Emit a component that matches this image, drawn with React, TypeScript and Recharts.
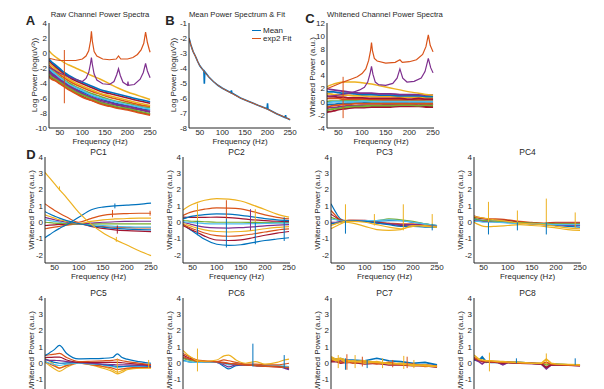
import React from 'react';
import { LineChart, Line, XAxis, YAxis } from 'recharts';

// MATLAB default colour order
const M = {
  blue: '#0072BD',
  orange: '#D95319',
  yellow: '#EDB120',
  purple: '#7E2F8E',
  green: '#77AC30',
  cyan: '#4DBEEE',
  red: '#A2142F',
};
const FONT = '"Liberation Sans", Arial, Helvetica, sans-serif';
const INK = '#262626';

// ---------- A: raw channel spectra (log power) ----------
const topFreq = [26, 32, 40, 50, 60, 70, 85, 100, 120, 140, 160, 180, 200, 220, 235, 250];
const rawChannels = [
  [-3.0, -3.3, -3.6, -4.0, -4.4, -4.8, -5.3, -5.8, -6.3, -6.7, -7.0, -7.3, -7.5, -7.8, -8.0, -8.2],
  [-2.6, -3.0, -3.3, -3.8, -4.2, -4.6, -5.1, -5.5, -6.0, -6.5, -6.8, -7.0, -7.3, -7.5, -7.7, -7.9],
  [-2.2, -2.6, -3.0, -3.5, -3.9, -4.3, -4.8, -5.2, -5.7, -6.1, -6.5, -6.8, -7.0, -7.3, -7.5, -7.6],
  [-1.9, -2.3, -2.7, -3.2, -3.6, -4.0, -4.5, -4.9, -5.4, -5.8, -6.2, -6.5, -6.7, -7.0, -7.2, -7.3],
  [-1.6, -2.0, -2.4, -2.9, -3.3, -3.7, -4.2, -4.6, -5.1, -5.5, -5.9, -6.2, -6.5, -6.8, -7.0, -7.1],
  [-2.0, -2.4, -2.8, -3.3, -3.7, -4.2, -4.6, -5.0, -5.6, -6.0, -6.3, -6.6, -6.9, -7.1, -7.3, -7.5],
  [-1.3, -1.7, -2.1, -2.6, -3.1, -3.5, -4.0, -4.4, -4.9, -5.4, -5.7, -6.0, -6.3, -6.6, -6.8, -7.0],
  [-1.0, -1.4, -1.8, -2.3, -2.8, -3.2, -3.7, -4.1, -4.6, -5.1, -5.4, -5.7, -6.0, -6.3, -6.5, -6.7],
  [-2.4, -2.8, -3.1, -3.6, -4.0, -4.4, -4.9, -5.4, -5.9, -6.3, -6.6, -6.9, -7.1, -7.4, -7.6, -7.8],
  [-0.8, -1.2, -1.6, -2.1, -2.6, -3.0, -3.5, -3.9, -4.4, -4.9, -5.2, -5.5, -5.8, -6.1, -6.3, -6.5],
  [-2.8, -3.2, -3.5, -3.9, -4.3, -4.7, -5.2, -5.6, -6.1, -6.6, -6.9, -7.2, -7.4, -7.7, -7.9, -8.1],
  [-3.2, -3.5, -3.7, -4.1, -4.5, -4.9, -5.4, -5.9, -6.3, -6.8, -7.1, -7.4, -7.6, -7.9, -8.1, -8.3],
];
const rawColors = [M.red, M.purple, M.blue, M.green, M.orange, M.cyan, M.yellow, M.red, M.purple, M.blue, M.green, M.orange];
const rawYellow = [0.3, -0.1, -0.5, -0.9, -1.3, -1.6, -2.0, -2.4, -3.0, -3.5, -4.1, -4.7, -5.2, -5.6, -5.9, -6.2];
const rawPurple = [
  [26, -1.9], [50, -2.7], [75, -3.3], [100, -3.8], [108, -3.4], [114, -2.6], [118, -1.4], [120, -0.6],
  [122, -1.5], [126, -2.8], [132, -3.6], [145, -4.1], [160, -4.2], [170, -3.8], [176, -2.9], [180, -2.1],
  [184, -3.0], [190, -3.9], [200, -4.3], [201, -3.8], [202, -4.3], [215, -4.2], [228, -3.5], [235, -2.6],
  [240, -1.4], [244, -2.4], [250, -3.3],
];
const rawOrange = [
  [26, -0.7], [40, -0.9], [50, -1.0], [60, -1.0], [70, -1.0], [85, -1.0], [100, -0.8], [108, -0.4],
  [114, 0.3], [118, 1.6], [120, 2.9], [122, 1.6], [126, 0.2], [132, -0.4], [145, -0.8], [160, -0.9],
  [175, -0.8], [180, -0.4], [185, -0.8], [200, -0.8], [212, -0.6], [222, -0.2], [230, 0.4], [236, 1.3],
  [240, 2.8], [244, 1.4], [248, 0.5], [250, 0.1],
];
const rawSpikes = [[60, -6.7, 0.4]];

// ---------- B: mean spectrum & exp2 fit ----------
const meanFreq = [26, 30, 35, 40, 45, 50, 55, 59, 60, 61, 70, 80, 90, 100, 119, 120, 121, 140, 160, 180, 199, 200, 201, 220, 239, 240, 241, 250];
const meanPow = [-2.0, -2.45, -2.9, -3.2, -3.55, -3.85, -4.05, -4.2, -5.05, -4.25, -4.6, -4.9, -5.15, -5.35, -5.65, -5.5, -5.67, -6.0, -6.25, -6.5, -6.72, -6.35, -6.75, -7.05, -7.3, -7.15, -7.32, -7.45];
const fitFreq = [26, 30, 35, 40, 45, 50, 55, 60, 70, 80, 90, 100, 120, 140, 160, 180, 200, 220, 240, 250];
const fitPow = [-2.0, -2.45, -2.9, -3.2, -3.55, -3.85, -4.05, -4.25, -4.6, -4.9, -5.15, -5.35, -5.68, -6.0, -6.25, -6.5, -6.75, -7.05, -7.3, -7.45];

// ---------- C: whitened channel spectra ----------
const whiteChannels = [
  [-1.6, -1.5, -1.4, -1.2, -1.1, -1.0, -0.9, -0.9, -0.8, -0.8, -0.8, -0.7, -0.7, -0.7, -0.8, -0.8],
  [-1.0, -0.9, -0.9, -0.8, -0.7, -0.6, -0.6, -0.5, -0.5, -0.5, -0.4, -0.4, -0.4, -0.5, -0.4, -0.5],
  [-0.5, -0.4, -0.4, -0.3, -0.3, -0.2, -0.2, -0.2, -0.1, -0.2, -0.1, -0.1, -0.2, -0.1, -0.2, -0.2],
  [0.0, 0.1, 0.1, 0.1, 0.2, 0.2, 0.2, 0.2, 0.2, 0.1, 0.2, 0.2, 0.1, 0.2, 0.1, 0.1],
  [0.5, 0.5, 0.5, 0.5, 0.4, 0.4, 0.4, 0.4, 0.4, 0.3, 0.3, 0.3, 0.3, 0.3, 0.3, 0.3],
  [-0.2, -0.1, 0.0, 0.0, 0.0, 0.0, 0.0, 0.1, 0.0, 0.0, 0.0, 0.0, 0.0, 0.0, 0.0, 0.0],
  [1.2, 1.2, 1.1, 1.1, 1.0, 1.0, 0.9, 0.9, 0.8, 0.8, 0.8, 0.7, 0.7, 0.7, 0.6, 0.6],
  [0.9, 0.8, 0.8, 0.7, 0.7, 0.6, 0.6, 0.6, 0.5, 0.5, 0.5, 0.5, 0.4, 0.5, 0.4, 0.4],
  [1.6, 1.5, 1.5, 1.4, 1.3, 1.3, 1.2, 1.1, 1.1, 1.0, 1.0, 0.9, 0.9, 0.9, 0.8, 0.8],
  [-1.3, -1.2, -1.1, -1.0, -0.9, -0.8, -0.7, -0.7, -0.6, -0.6, -0.6, -0.5, -0.5, -0.6, -0.5, -0.6],
  [2.0, 1.9, 1.8, 1.7, 1.6, 1.5, 1.4, 1.3, 1.3, 1.2, 1.2, 1.1, 1.1, 1.1, 1.0, 1.0],
  [-0.8, -0.7, -0.6, -0.5, -0.4, -0.4, -0.3, -0.3, -0.3, -0.3, -0.3, -0.3, -0.3, -0.3, -0.3, -0.3],
];
const whiteColors = [M.red, M.purple, M.blue, M.green, M.orange, M.cyan, M.yellow, M.red, M.blue, M.green, M.purple, M.orange];
const whiteYellow = [2.3, 2.5, 2.7, 2.9, 3.0, 3.0, 3.0, 2.9, 2.7, 2.4, 2.1, 1.8, 1.5, 1.3, 1.1, 1.0];
const whitePurple = [
  [26, 0.8], [50, 1.0], [75, 1.3], [95, 1.8], [105, 2.2], [112, 3.0], [117, 4.3], [120, 5.4], [123, 4.2],
  [128, 3.0], [135, 2.6], [150, 2.5], [165, 2.8], [174, 3.6], [180, 5.0], [186, 3.6], [195, 3.0],
  [210, 3.1], [225, 3.6], [233, 4.6], [240, 6.6], [245, 5.2], [250, 4.4],
];
const whiteOrange = [
  [26, 2.0], [40, 2.4], [50, 2.7], [60, 3.0], [75, 3.4], [90, 3.8], [100, 4.3], [108, 5.0], [114, 6.3],
  [118, 7.8], [120, 9.0], [122, 7.8], [126, 6.6], [132, 6.2], [150, 5.9], [170, 6.0], [180, 6.4],
  [185, 6.0], [200, 6.1], [215, 6.4], [228, 7.2], [235, 8.4], [240, 10.2], [244, 8.6], [250, 7.6],
];
const whiteSpikes = [[60, -2.5, 3.8]];

// ---------- D: principal components ----------
const pcFreq = [30, 40, 50, 60, 75, 100, 125, 150, 175, 200, 225, 250];
const pcTitles = ['PC1', 'PC2', 'PC3', 'PC4', 'PC5', 'PC6', 'PC7', 'PC8'];

const pc1Lines = [
  [-0.2, -0.18, -0.16, -0.14, -0.12, -0.1, -0.25, -0.38, -0.47, -0.52, -0.55, -0.57],
  [-0.4, -0.35, -0.3, -0.25, -0.18, -0.1, -0.2, -0.27, -0.3, -0.33, -0.35, -0.35],
  [0.14, 0.1, 0.05, 0.0, -0.05, -0.1, -0.15, -0.2, -0.25, -0.28, -0.3, -0.3],
  [0.0, -0.02, -0.05, -0.07, -0.08, -0.1, -0.1, -0.1, -0.1, -0.1, -0.1, -0.1],
  [0.3, 0.22, 0.15, 0.08, 0.0, -0.1, -0.05, 0.0, 0.03, 0.05, 0.06, 0.06],
  [0.45, 0.35, 0.25, 0.15, 0.05, -0.08, 0.05, 0.15, 0.2, 0.23, 0.25, 0.25],
  [0.65, 0.5, 0.37, 0.25, 0.1, -0.08, -0.22, -0.3, -0.38, -0.42, -0.45, -0.47],
  [1.13, 0.92, 0.72, 0.55, 0.32, 0.0, 0.22, 0.42, 0.5, 0.53, 0.55, 0.55],
  [-0.95, -0.75, -0.55, -0.38, -0.15, 0.3, 0.75, 0.93, 1.0, 1.05, 1.1, 1.17],
  [3.05, 2.7, 2.35, 2.0, 1.5, 0.6, -0.1, -0.65, -1.05, -1.4, -1.75, -2.05],
];
const pc1Colors = [M.red, M.orange, M.cyan, M.green, M.purple, M.yellow, M.blue, M.orange, M.blue, M.yellow];
const pc1Spikes = [[60, 1.95, 2.2], [170, 0.3, 0.75], [175, 0.85, 1.15], [180, -0.7, -0.2], [178, -1.2, -0.9], [248, 0.4, 0.7]];
const pc1SpikeColors = [M.yellow, M.orange, M.blue, M.red, M.yellow, M.orange];

const pc2Lines = [
  [-0.1, -0.35, -0.55, -0.75, -1.05, -1.35, -1.42, -1.38, -1.25, -1.12, -1.03, -0.95],
  [0.41, 0.55, 0.65, 0.72, 0.8, 0.88, 0.87, 0.82, 0.65, 0.45, 0.3, 0.2],
  [0.75, 0.95, 1.1, 1.22, 1.35, 1.45, 1.42, 1.3, 1.05, 0.78, 0.5, 0.31],
  [0.0, -0.08, -0.15, -0.22, -0.3, -0.35, -0.36, -0.33, -0.28, -0.22, -0.18, -0.15],
  [0.1, 0.08, 0.06, 0.05, 0.03, 0.0, 0.0, 0.0, -0.01, -0.02, -0.02, -0.02],
  [0.04, 0.0, -0.03, -0.05, -0.08, -0.1, -0.1, -0.1, -0.09, -0.07, -0.06, -0.05],
  [0.31, 0.3, 0.3, 0.3, 0.3, 0.31, 0.28, 0.22, 0.15, 0.1, 0.06, 0.04],
  [0.2, 0.3, 0.37, 0.42, 0.47, 0.51, 0.5, 0.42, 0.33, 0.22, 0.15, 0.1],
  [-0.2, -0.35, -0.5, -0.63, -0.85, -1.09, -1.12, -1.08, -0.95, -0.8, -0.67, -0.57],
  [-0.14, -0.28, -0.4, -0.5, -0.66, -0.82, -0.86, -0.82, -0.72, -0.6, -0.48, -0.41],
  [-0.06, -0.18, -0.28, -0.36, -0.47, -0.57, -0.6, -0.57, -0.5, -0.4, -0.32, -0.27],
];
const pc2Colors = [M.blue, M.orange, M.yellow, M.purple, M.green, M.cyan, M.red, M.blue, M.red, M.orange, M.yellow];
const pc2Spikes = [[60, 0.1, 1.15], [60, -0.8, 0.1], [120, 0.2, 1.35], [120, -1.55, 0.2], [170, -0.5, 0.8], [180, -1.35, 0.0], [180, 0.0, 0.8], [240, -1.15, 0.3]];
const pc2SpikeColors = [M.yellow, M.blue, M.orange, M.blue, M.purple, M.blue, M.yellow, M.blue];

const pc3Lines = [
  [1.13, 0.6, 0.2, 0.1, 0.1, 0.1, 0.05, 0.1, 0.1, 0.0, -0.1, -0.2],
  [0.72, 0.4, 0.15, 0.1, 0.12, 0.1, 0.0, -0.05, -0.1, -0.1, -0.2, -0.25],
  [0.5, 0.3, 0.12, 0.1, 0.12, 0.12, 0.0, -0.1, -0.2, -0.15, -0.2, -0.25],
  [0.3, 0.2, 0.1, 0.08, 0.1, 0.1, 0.1, 0.2, 0.15, 0.05, -0.1, -0.2],
  [0.2, 0.15, 0.08, 0.05, 0.08, 0.1, 0.1, 0.15, 0.1, 0.0, -0.1, -0.2],
  [0.0, 0.0, 0.05, 0.05, 0.08, 0.05, -0.05, -0.1, -0.15, -0.15, -0.2, -0.25],
  [-0.1, -0.05, 0.0, 0.05, 0.08, 0.05, -0.05, -0.15, -0.25, -0.25, -0.3, -0.3],
  [-0.2, -0.1, 0.0, 0.05, 0.05, 0.0, -0.15, -0.3, -0.4, -0.25, -0.2, -0.3],
  [-0.4, -0.25, -0.1, 0.0, -0.05, -0.25, -0.45, -0.5, -0.45, -0.2, -0.25, -0.3],
];
const pc3Colors = [M.blue, M.orange, M.red, M.green, M.cyan, M.purple, M.blue, M.yellow, M.yellow];
const pc3Spikes = [[60, -0.2, 1.1], [60, -0.7, 0.1], [120, -0.2, 0.5], [180, -0.5, 1.1], [240, -0.3, 0.5], [240, -0.5, -0.1]];
const pc3SpikeColors = [M.yellow, M.blue, M.yellow, M.yellow, M.yellow, M.blue];

const pc4Lines = [
  [0.4, 0.3, 0.25, 0.2, 0.2, 0.15, 0.05, 0.0, -0.05, 0.0, 0.0, 0.0],
  [0.3, 0.25, 0.2, 0.18, 0.15, 0.1, 0.0, -0.05, -0.1, -0.05, -0.05, -0.05],
  [0.2, 0.15, 0.1, 0.05, 0.05, 0.0, -0.05, -0.1, -0.15, -0.2, -0.25, -0.3],
  [0.1, 0.08, 0.05, 0.05, 0.02, 0.0, -0.05, -0.1, -0.15, -0.15, -0.2, -0.2],
  [0.25, 0.15, 0.1, 0.1, 0.05, 0.0, -0.02, -0.05, -0.08, -0.1, -0.1, -0.1],
  [0.05, 0.05, 0.0, 0.0, 0.0, -0.05, -0.08, -0.1, -0.12, -0.15, -0.15, -0.15],
  [0.0, -0.15, -0.25, -0.27, -0.25, -0.2, -0.15, -0.2, -0.25, -0.35, -0.45, -0.5],
  [0.35, 0.3, 0.25, 0.2, 0.15, 0.05, -0.05, -0.1, -0.15, -0.25, -0.35, -0.4],
];
const pc4Colors = [M.orange, M.red, M.blue, M.purple, M.green, M.cyan, M.yellow, M.yellow];
const pc4Spikes = [[60, -0.3, 1.25], [60, -0.75, 0.0], [120, -0.2, 0.72], [120, -0.5, 0.0], [180, -0.3, 1.45], [180, -0.75, 0.0], [240, -0.4, 0.6]];
const pc4SpikeColors = [M.yellow, M.blue, M.yellow, M.blue, M.yellow, M.blue, M.yellow];

const pc5Freq = [30, 40, 50, 60, 75, 100, 125, 150, 170, 180, 190, 200, 225, 250];
const pc5Lines = [
  [0.06, -0.15, -0.35, -0.5, -0.25, 0.0, -0.1, -0.3, -0.5, -0.65, -0.55, -0.4, -0.3, -0.25],
  [0.3, 0.1, -0.1, -0.3, -0.1, 0.05, -0.05, -0.2, -0.4, -0.55, -0.45, -0.35, -0.3, -0.3],
  [0.1, -0.05, -0.18, -0.3, -0.15, 0.0, -0.08, -0.2, -0.3, -0.39, -0.35, -0.3, -0.25, -0.25],
  [0.1, 0.0, -0.08, -0.14, -0.05, 0.0, -0.05, -0.1, -0.2, -0.25, -0.22, -0.2, -0.2, -0.2],
  [0.25, 0.15, 0.05, 0.0, 0.02, 0.05, 0.0, -0.08, -0.15, -0.2, -0.2, -0.18, -0.15, -0.2],
  [0.2, 0.18, 0.17, 0.16, 0.1, 0.05, 0.0, -0.05, -0.08, -0.1, -0.1, -0.1, -0.12, -0.15],
  [0.35, 0.36, 0.37, 0.37, 0.2, 0.05, 0.05, 0.05, 0.05, 0.05, 0.03, 0.0, -0.05, -0.1],
  [0.47, 0.52, 0.56, 0.6, 0.35, 0.1, 0.12, 0.15, 0.18, 0.22, 0.15, 0.1, 0.0, -0.1],
  [0.47, 0.65, 0.85, 1.09, 0.6, 0.27, 0.28, 0.3, 0.35, 0.57, 0.35, 0.25, 0.1, 0.0],
];
const pc5Colors = [M.yellow, M.yellow, M.orange, M.cyan, M.blue, M.purple, M.red, M.orange, M.blue];
const pc5Spikes = [[180, -0.65, 0.3], [245, -0.3, 0.2]];
const pc5SpikeColors = [M.yellow, M.yellow];

const pc6Freq = [30, 40, 50, 60, 75, 100, 115, 125, 140, 160, 180, 200, 225, 240, 250];
const pc6Lines = [
  [0.2, 0.1, 0.05, 0.05, 0.08, 0.05, -0.2, -0.35, -0.15, -0.1, -0.15, -0.2, -0.2, -0.25, -0.35],
  [0.35, 0.25, 0.2, 0.1, 0.08, 0.05, -0.1, -0.22, -0.1, -0.1, -0.12, -0.15, -0.2, -0.3, -0.4],
  [0.3, 0.2, 0.15, 0.1, 0.1, 0.08, 0.0, -0.05, -0.05, -0.08, -0.12, -0.15, -0.15, -0.2, -0.2],
  [0.15, 0.1, 0.05, 0.05, 0.05, 0.05, 0.0, -0.1, -0.05, -0.08, -0.1, -0.12, -0.15, -0.18, -0.2],
  [0.5, 0.35, 0.25, 0.15, 0.12, 0.08, 0.02, -0.02, -0.05, -0.1, -0.15, -0.18, -0.22, -0.25, -0.28],
  [0.4, 0.3, 0.2, 0.12, 0.1, 0.1, 0.2, 0.15, 0.05, -0.05, -0.05, -0.1, -0.1, -0.05, 0.0],
  [0.6, 0.45, 0.3, 0.2, 0.15, 0.1, 0.05, 0.0, -0.05, -0.1, -0.15, -0.2, -0.22, -0.25, -0.25],
  [0.78, 0.5, 0.3, 0.15, 0.12, 0.2, 0.45, 0.5, 0.2, 0.0, 0.1, -0.05, 0.05, 0.2, 0.25],
];
const pc6Colors = [M.blue, M.purple, M.green, M.cyan, M.red, M.orange, M.orange, M.yellow];
const pc6Spikes = [[60, -0.5, 0.9], [175, -0.2, 1.2], [240, -0.3, 0.5]];
const pc6SpikeColors = [M.yellow, M.blue, M.blue];

const pc7Lines = [
  [0.3, 0.25, 0.28, 0.2, 0.2, 0.15, 0.3, 0.15, 0.1, 0.0, 0.05, -0.1],
  [0.1, 0.1, 0.0, 0.05, 0.05, -0.05, 0.0, -0.1, -0.1, -0.15, -0.15, -0.25],
  [0.2, 0.12, 0.15, 0.05, 0.08, 0.0, 0.02, -0.05, -0.05, -0.12, -0.1, -0.18],
  [0.15, 0.2, 0.05, 0.15, 0.0, 0.1, -0.05, 0.05, -0.1, -0.05, -0.2, -0.15],
  [0.4, 0.25, 0.3, 0.2, 0.1, 0.15, 0.05, 0.0, -0.05, -0.1, -0.15, -0.2],
  [0.3, 0.15, 0.25, 0.05, 0.15, 0.0, 0.1, -0.05, 0.0, -0.15, -0.1, -0.2],
];
const pc7Colors = [M.blue, M.red, M.purple, M.orange, M.yellow, M.yellow];
const pc7Spikes = [[45, -0.3, 0.5], [63, -0.4, 0.55], [80, -0.3, 0.5], [95, -0.2, 0.4], [137, -0.3, 0.3], [158, -0.25, 0.2], [181, -0.35, 0.45], [188, -0.3, 0.4], [202, -0.3, 0.2], [60, -0.4, 0.3], [105, -0.3, 0.2]];
const pc7SpikeColors = [M.yellow, M.orange, M.yellow, M.orange, M.yellow, M.orange, M.yellow, M.orange, M.yellow, M.blue, M.blue];

const pc8Freq = [30, 40, 47, 55, 65, 80, 90, 100, 125, 150, 170, 180, 190, 200, 225, 250];
const pc8Lines = [
  [0.3, 0.2, 0.35, 0.05, 0.1, 0.08, 0.05, 0.05, 0.02, 0.0, -0.02, -0.1, -0.05, -0.05, -0.1, -0.12],
  [0.2, 0.15, 0.4, 0.1, 0.05, 0.05, -0.05, 0.05, 0.05, 0.0, -0.05, -0.3, -0.1, -0.08, -0.1, -0.1],
  [0.25, 0.1, -0.05, 0.15, 0.1, 0.05, -0.1, 0.05, 0.0, -0.02, -0.05, -0.35, -0.1, -0.1, -0.1, -0.15],
  [0.3, 0.2, 0.1, 0.1, 0.08, 0.05, 0.0, 0.05, 0.0, -0.02, -0.05, -0.25, -0.1, -0.1, -0.12, -0.15],
  [0.35, 0.2, 0.15, 0.12, 0.1, 0.1, 0.08, 0.05, 0.02, 0.0, -0.02, 0.05, -0.05, -0.08, -0.1, -0.12],
  [0.5, 0.25, 0.2, 0.15, 0.15, 0.1, 0.1, 0.08, 0.05, 0.0, 0.0, 0.25, 0.0, -0.05, -0.08, -0.1],
];
const pc8Colors = [M.green, M.blue, M.purple, M.red, M.orange, M.yellow];
const pc8Spikes = [[62, -0.5, 0.65], [180, -0.1, 0.6], [118, 0.0, 0.3], [240, -0.1, 0.3]];
const pc8SpikeColors = [M.yellow, M.yellow, M.blue, M.blue];

// ---------- helpers ----------
type Curve = 'linear' | 'monotone';
type Trace = { pts: { f: number; v: number }[]; color: string; w: number; curve: Curve };

const onGrid = (freq: number[], rows: number[][], colors: string[], w = 1.2, curve: Curve = 'monotone'): Trace[] =>
  rows.map((row, i) => ({ pts: row.map((v, j) => ({ f: freq[j], v })), color: colors[i], w, curve }));

const fromPairs = (pairs: number[][], color: string, w = 1.2): Trace => ({
  pts: pairs.map(([f, v]) => ({ f, v })),
  color,
  w,
  curve: 'linear',
});

const spikes = (rows: number[][], colors: string[]): Trace[] =>
  rows.map(([f, lo, hi], i) => ({ pts: [{ f, v: lo }, { f, v: hi }], color: colors[i], w: 1, curve: 'linear' as Curve }));

const Txt = ({ x, y, children, size = 8, bold = false, rotate = false }: any) => (
  <div
    style={{
      position: 'absolute',
      left: x,
      top: y,
      transform: `translate(-50%, -50%)${rotate ? ' rotate(-90deg)' : ''}`,
      fontSize: size,
      fontWeight: bold ? 700 : 400,
      fontFamily: FONT,
      color: INK,
      whiteSpace: 'nowrap',
      lineHeight: 1,
    }}
  >
    {children}
  </div>
);

const tickStyle = { fontSize: 8, fill: INK, fontFamily: FONT };

function Plot({ x, y, w, h, xDom, yDom, yTicks, traces }: any) {
  const ml = 34, mt = 4, mr = 8, xh = 22;
  return (
    <div style={{ position: 'absolute', left: x - ml, top: y - mt }}>
      <LineChart width={w + ml + mr} height={h + mt + xh} margin={{ top: mt, right: mr, bottom: 0, left: 0 }}>
        <XAxis
          type="number"
          dataKey="f"
          domain={xDom}
          ticks={[50, 100, 150, 200, 250]}
          interval={0}
          allowDataOverflow
          height={xh}
          tickLine={false}
          tickSize={0}
          tickMargin={1}
          axisLine={{ stroke: INK }}
          tick={tickStyle}
        />
        <YAxis
          type="number"
          domain={yDom}
          ticks={yTicks}
          interval={0}
          allowDataOverflow
          width={ml}
          tickLine={false}
          tickSize={0}
          tickMargin={2}
          axisLine={{ stroke: INK }}
          tick={tickStyle}
        />
        {traces.map((t: Trace, i: number) => (
          <Line
            key={i}
            data={t.pts}
            dataKey="v"
            stroke={t.color}
            strokeWidth={t.w}
            type={t.curve}
            dot={false}
            activeDot={false}
            isAnimationActive={false}
          />
        ))}
      </LineChart>
    </div>
  );
}

const pcX = [45, 183, 331, 474];
const pcY = [157, 298];
const pcW = 107;
const pcH = 106;
const pcTicks = [-2, -1, 0, 1, 2, 3, 4];

export default function App() {
  const aTraces = [
    ...onGrid(topFreq, rawChannels, rawColors, 1.7),
    ...onGrid(topFreq, [rawYellow], [M.yellow], 1.4),
    fromPairs(rawPurple, M.purple),
    fromPairs(rawOrange, M.orange),
    ...spikes(rawSpikes, [M.orange]),
  ];
  const bTraces = [
    fromPairs(meanFreq.map((f, i) => [f, meanPow[i]]), M.blue, 1.6),
    { ...fromPairs(fitFreq.map((f, i) => [f, fitPow[i]]), M.orange, 1), curve: 'monotone' as Curve },
  ];
  const cTraces = [
    ...onGrid(topFreq, whiteChannels, whiteColors, 1.8),
    ...onGrid(topFreq, [whiteYellow], [M.yellow], 1.4),
    fromPairs(whitePurple, M.purple),
    fromPairs(whiteOrange, M.orange),
    ...spikes(whiteSpikes, [M.orange]),
  ];
  const pcTraces = [
    [...onGrid(pcFreq, pc1Lines, pc1Colors), ...spikes(pc1Spikes, pc1SpikeColors)],
    [...onGrid(pcFreq, pc2Lines, pc2Colors), ...spikes(pc2Spikes, pc2SpikeColors)],
    [...onGrid(pcFreq, pc3Lines, pc3Colors), ...spikes(pc3Spikes, pc3SpikeColors)],
    [...onGrid(pcFreq, pc4Lines, pc4Colors), ...spikes(pc4Spikes, pc4SpikeColors)],
    [...onGrid(pc5Freq, pc5Lines, pc5Colors), ...spikes(pc5Spikes, pc5SpikeColors)],
    [...onGrid(pc6Freq, pc6Lines, pc6Colors), ...spikes(pc6Spikes, pc6SpikeColors)],
    [...onGrid(pcFreq, pc7Lines, pc7Colors, 1.6, 'linear'), ...spikes(pc7Spikes, pc7SpikeColors)],
    [...onGrid(pc8Freq, pc8Lines, pc8Colors, 1.6, 'linear'), ...spikes(pc8Spikes, pc8SpikeColors)],
  ];

  return (
    <div style={{ position: 'absolute', left: 0, top: 0, width: 604, height: 389, overflow: 'hidden', background: '#fff' }}>
      {/* top row */}
      <Plot x={49} y={23} w={102} h={105} xDom={[26, 252]} yDom={[-10, 4]} yTicks={[-10, -8, -6, -4, -2, 0, 2, 4]} traces={aTraces} />
      <Plot x={189} y={23} w={102} h={105} xDom={[26, 252]} yDom={[-8, -1]} yTicks={[-8, -7, -6, -5, -4, -3, -2, -1]} traces={bTraces} />
      <Plot x={327} y={23} w={107} h={105} xDom={[26, 252]} yDom={[-4, 12]} yTicks={[-4, -2, 0, 2, 4, 6, 8, 10, 12]} traces={cTraces} />

      <Txt x={30.5} y={19.5} size={13} bold>A</Txt>
      <Txt x={170} y={19.5} size={13} bold>B</Txt>
      <Txt x={310} y={18} size={13} bold>C</Txt>
      <Txt x={31} y={154} size={13} bold>D</Txt>

      <Txt x={100} y={15} size={7.7}>Raw Channel Power Spectra</Txt>
      <Txt x={237} y={15} size={7.7}>Mean Power Spectrum &amp; Fit</Txt>
      <Txt x={385} y={15} size={7.7}>Whitened Channel Power Spectra</Txt>

      <Txt x={35} y={75} rotate>Log Power (log(uV²))</Txt>
      <Txt x={174} y={75} rotate>Log Power (log(uV²))</Txt>
      <Txt x={313} y={77} rotate>Whitened Power (a.u.)</Txt>

      <Txt x={100} y={142}>Frequency (Hz)</Txt>
      <Txt x={240} y={142}>Frequency (Hz)</Txt>
      <Txt x={381} y={142}>Frequency (Hz)</Txt>

      {/* legend for B */}
      <div style={{ position: 'absolute', left: 252, top: 30, width: 9, height: 1.2, background: M.blue }} />
      <div style={{ position: 'absolute', left: 252, top: 38, width: 9, height: 1.2, background: M.orange }} />
      <div style={{ position: 'absolute', left: 263, top: 26.5, fontSize: 8, fontFamily: FONT, color: INK, lineHeight: 1 }}>Mean</div>
      <div style={{ position: 'absolute', left: 263, top: 34.5, fontSize: 8, fontFamily: FONT, color: INK, lineHeight: 1 }}>exp2 Fit</div>

      {/* PC grid */}
      {pcTraces.map((tr, i) => {
        const px = pcX[i % 4];
        const py = pcY[Math.floor(i / 4)];
        return (
          <React.Fragment key={i}>
            <Plot x={px} y={py} w={pcW} h={pcH} xDom={[30, 252]} yDom={[-2.5, 4]} yTicks={pcTicks} traces={tr} />
            <Txt x={px + pcW / 2} y={py - 5} size={8.5}>{pcTitles[i]}</Txt>
            <Txt x={px - 13} y={py + 53} rotate>Whitened Power (a.u.)</Txt>
            <Txt x={px + pcW / 2} y={py + 120}>Frequency (Hz)</Txt>
          </React.Fragment>
        );
      })}
    </div>
  );
}
